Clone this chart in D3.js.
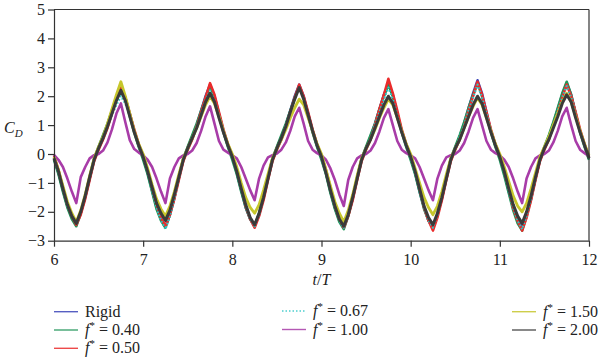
<!DOCTYPE html>
<html>
<head>
<meta charset="utf-8">
<script src="https://cdn.jsdelivr.net/npm/d3@7"></script>
<style>
  html, body { margin: 0; padding: 0; background: #fff; }
  svg { display: block; }
  text { font-family: "Liberation Serif", "Times New Roman", serif; fill: #222; }
</style>
</head>
<body>
<svg id="chart" width="600" height="359"></svg>
<script>
// ---------- data (sampled every 0.05 t/T from 6 to 12) ----------
const xTicks = [6, 7, 8, 9, 10, 11, 12];
const yTicks = [-3, -2, -1, 0, 1, 2, 3, 4, 5];

const rigid = [
  -0.15,-0.65,-1.25,-1.8,-2.2,-2.45,-2.05,-1.5,-0.85,-0.2,0.2,0.6,1.0,1.5,1.95,2.35,1.95,1.4,0.8,0.3,
  -0.1,-0.65,-1.25,-1.85,-2.25,-2.5,-2.1,-1.5,-0.85,-0.2,0.2,0.6,1.0,1.5,2.0,2.4,2.0,1.4,0.8,0.3,
  -0.1,-0.65,-1.25,-1.85,-2.25,-2.5,-2.1,-1.5,-0.85,-0.2,0.2,0.6,1.0,1.5,2.0,2.4,2.0,1.4,0.8,0.3,
  -0.1,-0.65,-1.3,-1.85,-2.3,-2.55,-2.1,-1.55,-0.85,-0.2,0.2,0.6,1.05,1.55,2.05,2.45,2.05,1.4,0.8,0.3,
  -0.1,-0.65,-1.3,-1.85,-2.3,-2.55,-2.1,-1.55,-0.85,-0.2,0.2,0.6,1.05,1.6,2.1,2.55,2.1,1.45,0.8,0.3,
  -0.1,-0.65,-1.3,-1.85,-2.3,-2.55,-2.1,-1.55,-0.85,-0.2,0.2,0.6,1.05,1.55,2.05,2.45,2.05,1.4,0.8,0.3,
  -0.15
];
const f040 = [
  -0.2,-0.7,-1.3,-1.85,-2.25,-2.5,-2.05,-1.45,-0.8,-0.15,0.25,0.65,1.05,1.5,1.95,2.3,1.9,1.3,0.75,0.25,
  -0.2,-0.7,-1.3,-1.9,-2.3,-2.55,-2.1,-1.5,-0.8,-0.15,0.25,0.65,1.05,1.5,1.95,2.35,1.95,1.35,0.75,0.25,
  -0.2,-0.7,-1.3,-1.85,-2.25,-2.5,-2.05,-1.45,-0.8,-0.15,0.25,0.65,1.05,1.5,1.95,2.35,1.95,1.35,0.75,0.25,
  -0.2,-0.7,-1.35,-1.9,-2.35,-2.6,-2.15,-1.5,-0.8,-0.15,0.25,0.65,1.05,1.55,2.0,2.4,2.0,1.35,0.75,0.25,
  -0.2,-0.7,-1.3,-1.9,-2.3,-2.55,-2.1,-1.5,-0.8,-0.15,0.25,0.65,1.1,1.6,2.05,2.45,2.0,1.35,0.75,0.25,
  -0.2,-0.75,-1.35,-1.95,-2.4,-2.65,-2.15,-1.55,-0.85,-0.15,0.25,0.65,1.1,1.6,2.1,2.5,2.05,1.4,0.75,0.25,
  -0.2
];
const f050 = [
  -0.05,-0.55,-1.15,-1.75,-2.15,-2.45,-2.1,-1.55,-0.9,-0.25,0.15,0.5,0.9,1.4,1.9,2.3,1.95,1.4,0.85,0.35,
  -0.05,-0.55,-1.15,-1.75,-2.2,-2.5,-2.1,-1.55,-0.9,-0.25,0.15,0.5,0.95,1.45,1.95,2.45,2.05,1.45,0.85,0.35,
  -0.05,-0.55,-1.15,-1.8,-2.25,-2.55,-2.15,-1.6,-0.9,-0.25,0.15,0.5,0.95,1.45,1.95,2.4,2.0,1.45,0.85,0.35,
  -0.05,-0.55,-1.15,-1.8,-2.25,-2.55,-2.15,-1.6,-0.9,-0.25,0.15,0.5,1.0,1.55,2.05,2.6,2.1,1.5,0.85,0.35,
  -0.05,-0.55,-1.2,-1.85,-2.3,-2.65,-2.2,-1.6,-0.9,-0.25,0.15,0.5,0.95,1.5,2.0,2.5,2.05,1.45,0.85,0.35,
  -0.05,-0.55,-1.2,-1.85,-2.3,-2.65,-2.2,-1.6,-0.9,-0.25,0.15,0.5,0.95,1.45,1.95,2.4,2.0,1.45,0.85,0.35,
  -0.1
];
const f067 = [
  -0.15,-0.65,-1.2,-1.8,-2.15,-2.4,-2.0,-1.45,-0.8,-0.2,0.2,0.55,0.95,1.35,1.7,2.0,1.75,1.3,0.75,0.3,
  -0.15,-0.65,-1.25,-1.85,-2.3,-2.6,-2.15,-1.55,-0.85,-0.2,0.2,0.55,0.95,1.4,1.85,2.2,1.85,1.35,0.8,0.3,
  -0.15,-0.65,-1.25,-1.8,-2.25,-2.5,-2.1,-1.5,-0.85,-0.2,0.2,0.55,1.0,1.45,1.9,2.3,1.9,1.35,0.8,0.3,
  -0.15,-0.65,-1.25,-1.85,-2.3,-2.55,-2.1,-1.5,-0.85,-0.2,0.2,0.55,1.0,1.45,1.9,2.3,1.9,1.35,0.8,0.3,
  -0.15,-0.65,-1.25,-1.85,-2.3,-2.55,-2.1,-1.5,-0.85,-0.2,0.2,0.6,1.0,1.5,1.95,2.4,1.95,1.4,0.8,0.3,
  -0.15,-0.65,-1.3,-1.85,-2.3,-2.6,-2.15,-1.55,-0.85,-0.2,0.2,0.6,1.0,1.5,1.95,2.35,1.95,1.4,0.8,0.3,
  -0.15
];
const f100 = [
  -0.03,-0.2,-0.45,-0.85,-1.3,-1.7,-0.8,-0.45,-0.15,-0.04,0.0,0.12,0.4,0.85,1.4,1.75,1.1,0.48,0.17,0.05,
  -0.05,-0.2,-0.45,-0.85,-1.3,-1.7,-0.85,-0.45,-0.15,-0.05,0.0,0.12,0.38,0.8,1.3,1.65,1.05,0.45,0.15,0.05,
  -0.05,-0.15,-0.45,-0.85,-1.25,-1.6,-0.85,-0.4,-0.12,-0.04,0.02,0.15,0.4,0.8,1.3,1.6,1.05,0.45,0.15,0.03,
  -0.05,-0.2,-0.5,-0.9,-1.4,-1.8,-0.9,-0.45,-0.15,-0.05,0.0,0.12,0.38,0.78,1.25,1.55,1.0,0.45,0.15,0.03,
  -0.05,-0.15,-0.45,-0.85,-1.25,-1.6,-0.85,-0.4,-0.12,-0.04,0.0,0.12,0.38,0.78,1.25,1.55,1.0,0.45,0.15,0.03,
  -0.05,-0.2,-0.45,-0.85,-1.3,-1.7,-0.85,-0.45,-0.15,-0.05,0.0,0.12,0.4,0.8,1.3,1.6,1.0,0.45,0.15,0.03,
  -0.08
];
const f150 = [
  -0.1,-0.55,-1.1,-1.65,-2.05,-2.35,-1.95,-1.4,-0.75,-0.15,0.25,0.6,1.05,1.55,2.05,2.5,2.0,1.4,0.8,0.35,
  0.0,-0.5,-1.05,-1.55,-1.9,-2.15,-1.8,-1.3,-0.7,-0.15,0.2,0.55,0.9,1.3,1.7,2.0,1.75,1.3,0.8,0.35,
  0.0,-0.45,-1.0,-1.5,-1.85,-2.05,-1.75,-1.25,-0.7,-0.15,0.2,0.5,0.85,1.25,1.6,1.9,1.7,1.25,0.8,0.35,
  0.0,-0.55,-1.1,-1.65,-2.05,-2.35,-1.95,-1.4,-0.75,-0.15,0.2,0.5,0.85,1.25,1.6,1.9,1.7,1.25,0.8,0.35,
  0.0,-0.5,-1.0,-1.5,-1.85,-2.1,-1.8,-1.3,-0.7,-0.15,0.2,0.5,0.9,1.3,1.65,1.95,1.7,1.25,0.8,0.35,
  0.0,-0.45,-0.95,-1.45,-1.8,-2.0,-1.7,-1.2,-0.65,-0.1,0.25,0.6,1.0,1.4,1.8,2.1,1.8,1.3,0.8,0.35,
  -0.05
];
const f200 = [
  -0.15,-0.6,-1.2,-1.75,-2.15,-2.4,-2.0,-1.45,-0.8,-0.2,0.2,0.55,0.95,1.4,1.85,2.2,1.85,1.3,0.75,0.3,
  -0.1,-0.6,-1.15,-1.7,-2.05,-2.3,-1.95,-1.4,-0.8,-0.2,0.2,0.55,0.9,1.35,1.8,2.1,1.8,1.25,0.75,0.3,
  -0.1,-0.6,-1.2,-1.75,-2.2,-2.45,-2.05,-1.5,-0.85,-0.2,0.2,0.55,0.95,1.45,1.9,2.3,1.9,1.35,0.8,0.3,
  -0.1,-0.65,-1.25,-1.8,-2.25,-2.5,-2.1,-1.5,-0.85,-0.2,0.2,0.5,0.9,1.3,1.7,2.0,1.75,1.25,0.75,0.3,
  -0.1,-0.6,-1.2,-1.8,-2.2,-2.45,-2.05,-1.5,-0.85,-0.2,0.2,0.5,0.9,1.3,1.7,2.0,1.75,1.25,0.75,0.3,
  -0.1,-0.6,-1.2,-1.75,-2.15,-2.4,-2.0,-1.45,-0.8,-0.2,0.2,0.5,0.9,1.3,1.75,2.05,1.8,1.25,0.75,0.3,
  -0.15
];

const seriesNames = ["Rigid", "0.40", "0.50", "0.67", "1.00", "1.50", "2.00"];
const seriesData = [rigid, f040, f050, f067, f100, f150, f200];
const seriesColors = ["#3a44b8", "#1f9658", "#ea2b2b", "#2ec6c6", "#a83ca8", "#c6c62c", "#3a3a3a"];
const seriesWidths = [2.6, 2.6, 2.6, 2.2, 2.6, 2.8, 3.0];
const seriesDash = [null, null, null, "1.5,2", null, null, null];

// ---------- layout ----------
const svg = d3.select("#chart");
const X0 = 54, X1 = 589, Y0 = 240.7, Y1 = 9.5;
const x = d3.scaleLinear().domain([6, 12]).range([X0, X1]);
const y = d3.scaleLinear().domain([-3, 5]).range([Y0, Y1]);
const tGrid = d3.range(rigid.length).map(i => +(6 + i * 0.05).toFixed(2));

// lines
const line = d3.line().x((d, i) => x(tGrid[i])).y(d => y(d));
const plot = svg.append("g");
seriesData.forEach((s, k) => {
  plot.append("path")
    .datum(s)
    .attr("d", line)
    .attr("fill", "none")
    .attr("stroke", seriesColors[k])
    .attr("stroke-width", seriesWidths[k])
    .attr("stroke-linejoin", "round")
    .attr("stroke-dasharray", seriesDash[k]);
});

// frame
const axisColor = "#333";
svg.append("line").attr("x1", X0).attr("x2", X1).attr("y1", Y1).attr("y2", Y1)
  .attr("stroke", axisColor).attr("stroke-width", 1.2);
svg.append("line").attr("x1", X1).attr("x2", X1).attr("y1", Y1).attr("y2", Y0)
  .attr("stroke", axisColor).attr("stroke-width", 1.2);

const fmt = d => (d < 0 ? "\u2212" + Math.abs(d) : String(d));
const gx = svg.append("g").attr("transform", `translate(0,${Y0})`)
  .call(d3.axisBottom(x).tickValues(xTicks).tickSize(6).tickSizeOuter(0).tickPadding(7).tickFormat(fmt));
const gy = svg.append("g").attr("transform", `translate(${X0},0)`)
  .call(d3.axisLeft(y).tickValues(yTicks).tickSize(6).tickSizeOuter(0).tickPadding(3).tickFormat(fmt));
[gx, gy].forEach(g => {
  g.selectAll("path").attr("stroke", axisColor).attr("stroke-width", 1.2);
  g.selectAll("line").attr("stroke", axisColor).attr("stroke-width", 1.2);
  g.selectAll("text").attr("font-family", "'Liberation Serif', serif").attr("font-size", 16).attr("fill", "#222");
});

// axis titles
const yl = svg.append("text").attr("x", 4).attr("y", 133).attr("font-size", 16).attr("font-style", "italic");
yl.append("tspan").text("C");
yl.append("tspan").attr("font-size", 11).attr("dy", 4).text("D");

const xl = svg.append("text").attr("x", (X0 + X1) / 2).attr("y", 285)
  .attr("text-anchor", "middle").attr("font-size", 16);
xl.append("tspan").attr("font-style", "italic").text("t");
xl.append("tspan").text("/");
xl.append("tspan").attr("font-style", "italic").text("T");

// legend
const legendPos = [
  [54, 311.7], [54, 330], [54, 348.3],
  [282, 311], [282, 329.5],
  [512, 311.7], [512, 330]
];
seriesNames.forEach((name, k) => {
  const [lx, ly] = legendPos[k];
  svg.append("line").attr("x1", lx).attr("x2", lx + 24).attr("y1", ly).attr("y2", ly)
    .attr("stroke", seriesColors[k]).attr("stroke-width", 1.4)
    .attr("stroke-dasharray", seriesDash[k]).attr("opacity", 0.85);
  const t = svg.append("text").attr("x", lx + 31).attr("y", ly + 5).attr("font-size", 16);
  if (name === "Rigid") {
    t.text("Rigid");
  } else {
    t.append("tspan").attr("font-style", "italic").text("f");
    t.append("tspan").attr("font-size", 11).attr("dy", -6).text("*");
    t.append("tspan").attr("dy", 6).text(" = " + name);
  }
});
</script>
</body>
</html>
